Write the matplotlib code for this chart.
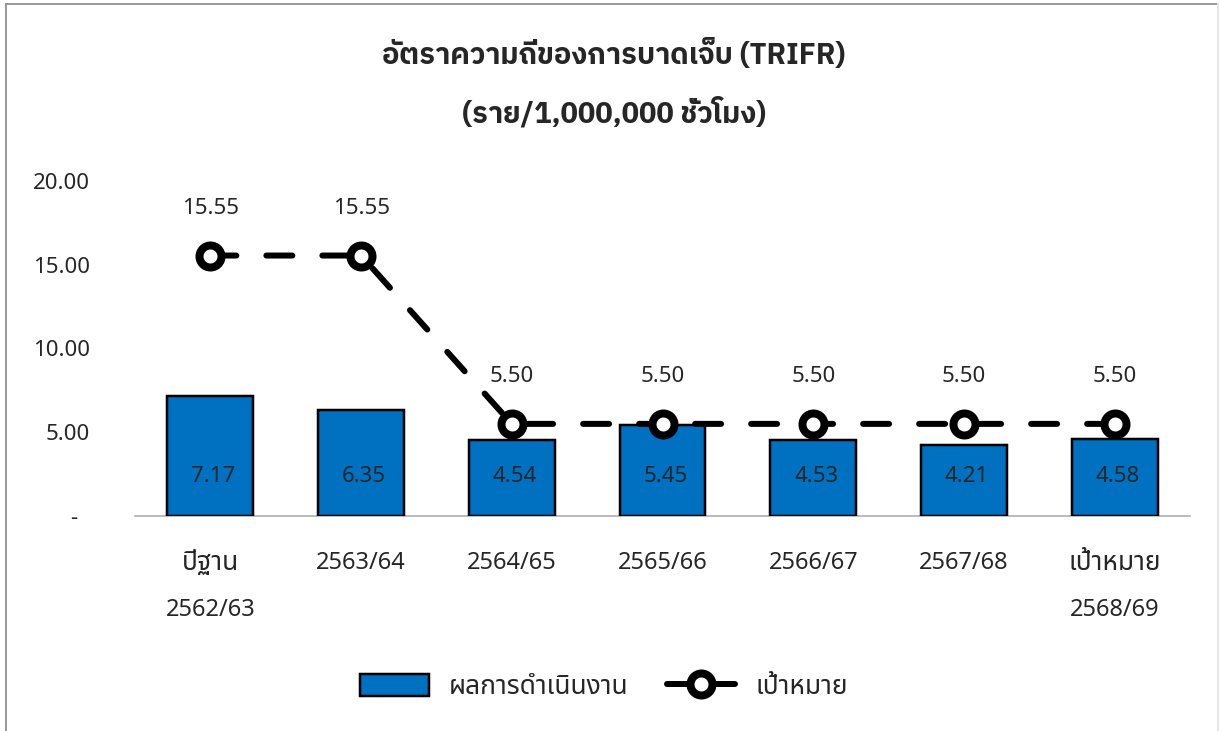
import matplotlib
matplotlib.use("Agg")
import matplotlib.pyplot as plt
from matplotlib.lines import Line2D
from matplotlib.patches import Patch
from matplotlib.transforms import blended_transform_factory

# ---- data -------------------------------------------------------------
categories = ["ปีฐาน\n2562/63", "2563/64", "2564/65", "2565/66",
              "2566/67", "2567/68", "เป้าหมาย\n2568/69"]
performance = [7.17, 6.35, 4.54, 5.45, 4.53, 4.21, 4.58]
target = [15.55, 15.55, 5.50, 5.50, 5.50, 5.50, 5.50]
y_ticks = [0, 5, 10, 15, 20]
y_tick_labels = ["-  ", "5.00", "10.00", "15.00", "20.00"]
title_lines = ["อัตราความถี่ของการบาดเจ็บ (TRIFR)", "(ราย/1,000,000 ชั่วโมง)"]
legend_labels = ["ผลการดำเนินงาน", "เป้าหมาย"]

# ---- style ------------------------------------------------------------
TEXT_FONT = ["Noto Sans", "Noto Sans Thai", "DejaVu Sans"]
THAI_FONT = ["Noto Sans Thai", "Noto Sans", "DejaVu Sans"]
TITLE_FONT = ["IBM Plex Sans Thai", "DejaVu Sans"]
TEXT_COLOR = "#262626"
BAR_COLOR = "#0070C0"
FS = 16
FS_THAI = 19

plt.rcParams["font.family"] = TEXT_FONT
plt.rcParams["lines.scale_dashes"] = False

W, H, DPI = 1220, 731, 100
fig = plt.figure(figsize=(W / DPI, H / DPI), dpi=DPI)
px = 72.0 / DPI  # points per pixel

# outer chart border
border = dict(transform=fig.transFigure, clip_on=False)
fig.add_artist(Line2D([6 / W, 6 / W], [-0.01, 1 - 4 / H], color="#9a9a9a", lw=2 * px, **border))
fig.add_artist(Line2D([6 / W, 1218 / W], [1 - 4 / H, 1 - 4 / H], color="#9a9a9a", lw=2 * px, **border))
fig.add_artist(Line2D([1218 / W, 1218 / W], [-0.01, 1 - 4 / H], color="#e6e6e6", lw=2 * px, **border))

ax = fig.add_axes([135 / W, 1 - 516 / H, (1190 - 135) / W, (516 - 181) / H])
x = list(range(len(categories)))

ax.bar(x, performance, width=0.57, color=BAR_COLOR,
       edgecolor="black", linewidth=2.5 * px, zorder=2)

line_style = dict(color="black", lw=6 * px, dash_capstyle="round", solid_capstyle="round",
                  marker="o", markersize=22 * px, markeredgewidth=8 * px,
                  markerfacecolor="white", markeredgecolor="black")
ax.plot(x, target, linestyle=(0, (26 * px, 30 * px)), zorder=3, **line_style)

# value labels
for xi, v in zip(x, performance):
    ax.annotate(f"{v:.2f}", xy=(xi, 0), xytext=(3 * px, 39 * px),
                textcoords="offset points", ha="center", va="center",
                fontsize=FS, color=TEXT_COLOR, zorder=4)
for xi, v in zip(x, target):
    ax.annotate(f"{v:.2f}", xy=(xi, v), xytext=(0, 47 * px),
                textcoords="offset points", ha="center", va="center",
                fontsize=FS, color=TEXT_COLOR, zorder=4)

ax.set_xlim(-0.5, len(categories) - 0.5)
ax.set_ylim(0, 20)
ax.set_yticks(y_ticks)
ax.set_yticklabels(y_tick_labels, fontsize=FS, color=TEXT_COLOR)
ax.set_xticks(x)
ax.set_xticklabels([])
ax.tick_params(axis="both", length=0)
ax.tick_params(axis="y", pad=45 * px)

# category labels, one text per line (Thai lines set slightly larger)
xt = blended_transform_factory(ax.transData, fig.transFigure)
line_y = [1 - 563 / H, 1 - 610 / H]
for xi, cat in zip(x, categories):
    for k, part in enumerate(cat.split("\n")):
        is_thai = any("\u0e00" <= ch <= "\u0e7f" for ch in part)
        ax.text(xi, line_y[k], part, transform=xt, ha="center", va="center",
                fontsize=FS_THAI if is_thai else FS + 1,
                family=THAI_FONT if is_thai else TEXT_FONT,
                color=TEXT_COLOR, clip_on=False)

for s in ("top", "right", "left"):
    ax.spines[s].set_visible(False)
ax.spines["bottom"].set_color("#a6a6a6")
ax.spines["bottom"].set_linewidth(1.5 * px)
ax.spines["bottom"].set_zorder(1)

# title
fig.text(614 / W, 1 - 55 / H, title_lines[0], ha="center", va="center",
         fontsize=21, fontweight="bold", family=TITLE_FONT, color=TEXT_COLOR)
fig.text(614 / W, 1 - 113 / H, title_lines[1], ha="center", va="center",
         fontsize=21, fontweight="bold", family=TITLE_FONT, color=TEXT_COLOR)

# legend
handles = [
    Patch(facecolor=BAR_COLOR, edgecolor="black", linewidth=2.5 * px),
    Line2D([], [], linestyle=(0, (24 * px, 22 * px)), **line_style),
]
leg = fig.legend(handles, legend_labels, loc="center", bbox_to_anchor=(604 / W, 1 - 687 / H),
                 ncol=2, frameon=False, handlelength=2.6, handleheight=0.87,
                 handletextpad=0.76, columnspacing=1.44,
                 prop={"family": THAI_FONT, "size": FS_THAI})
for t in leg.get_texts():
    t.set_color(TEXT_COLOR)

fig.savefig("out.png", dpi=DPI)
